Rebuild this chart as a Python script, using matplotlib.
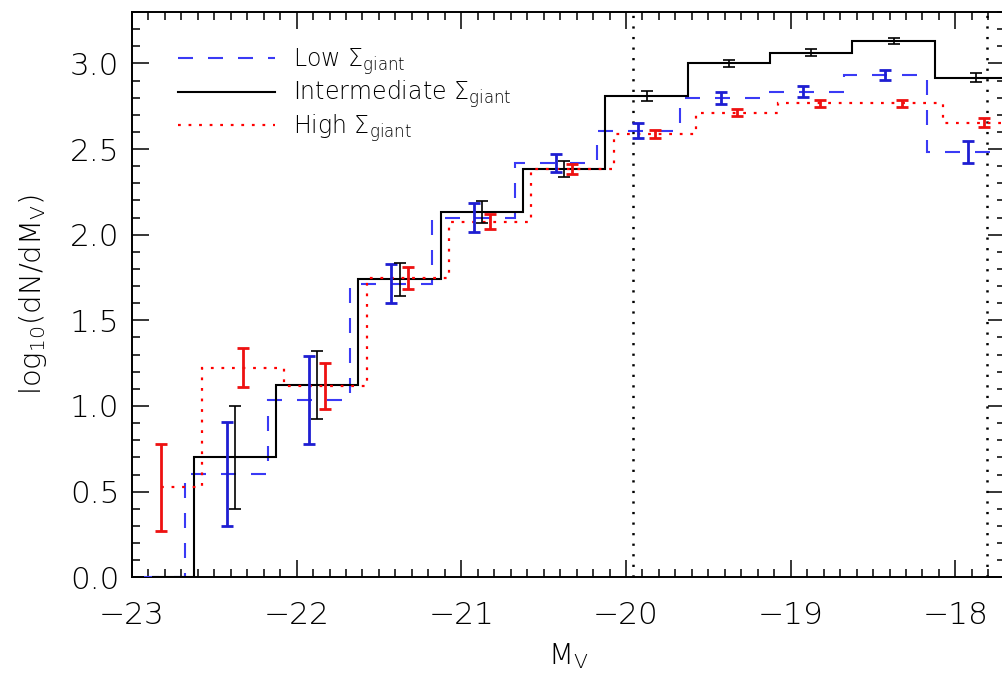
import numpy as np
import matplotlib
matplotlib.use("Agg")
import matplotlib.pyplot as plt
from matplotlib.ticker import MultipleLocator

plt.rcParams["font.family"] = ["DejaVu Sans"]
plt.rcParams["font.weight"] = 200
plt.rcParams["axes.labelweight"] = 200
plt.rcParams["mathtext.default"] = "regular"
plt.rcParams["lines.scale_dashes"] = False

# Luminosity function in three environment bins (bin width 0.5 mag)
low_mv = [-22.925, -22.425, -21.925, -21.425, -20.925, -20.425,
          -19.925, -19.425, -18.925, -18.425, -17.925]
low_logn = [0.0, 0.603, 1.035, 1.714, 2.098, 2.420,
            2.607, 2.800, 2.835, 2.932, 2.483]
low_err = [np.nan, 0.306, 0.255, 0.115, 0.085, 0.053,
           0.045, 0.035, 0.033, 0.028, 0.066]

mid_mv = [-22.875, -22.375, -21.875, -21.375, -20.875, -20.375,
          -19.875, -19.375, -18.875, -18.375, -17.875]
mid_logn = [0.0, 0.700, 1.122, 1.740, 2.135, 2.382,
            2.810, 3.000, 3.063, 3.131, 2.917]
mid_err = [np.nan, 0.300, 0.200, 0.097, 0.064, 0.048,
           0.030, 0.021, 0.020, 0.020, 0.027]

high_mv = [-22.825, -22.325, -21.825, -21.325, -20.825, -20.325,
           -19.825, -19.325, -18.825, -18.325, -17.825]
high_logn = [0.525, 1.224, 1.117, 1.745, 2.076, 2.382,
             2.586, 2.713, 2.767, 2.768, 2.653]
high_err = [0.256, 0.116, 0.133, 0.064, 0.044, 0.030,
            0.024, 0.022, 0.021, 0.021, 0.026]

# Completeness limits
mv_limits = [-19.955, -17.806]

labels = [r"Low $\mathregular{\Sigma_{giant}}$",
          r"Intermediate $\mathregular{\Sigma_{giant}}$",
          r"High $\mathregular{\Sigma_{giant}}$"]

W, H = 1003, 673
fig = plt.figure(figsize=(W / 100, H / 100), dpi=100)
x0, x1, y0, y1 = 131.9, 1004.8, 12.0, 577.3
ax = fig.add_axes([x0 / W, (H - y1) / H, (x1 - x0) / W, (y1 - y0) / H])


def hist_edges(centers):
    c = np.asarray(centers)
    # histogram drawn from the first bin centre, continuing past the last bin
    return np.r_[c[0], 0.5 * (c[:-1] + c[1:]), c[-1] + 0.5]


def errbars(ax, x, y, e, color, lw):
    x, y, e = map(np.asarray, (x, y, e))
    m = ~np.isnan(e)
    ax.errorbar(x[m], y[m], yerr=e[m], fmt="none", ecolor=color,
                elinewidth=lw, capsize=4, capthick=lw, zorder=4)


s_low = ax.stairs(low_logn, hist_edges(low_mv), baseline=None,
                  color="#3a3af5", lw=1.5, ls=(0, (10.8, 10.8)), zorder=3)
s_mid = ax.stairs(mid_logn, hist_edges(mid_mv), baseline=None,
                  color="black", lw=1.5, zorder=3)
s_high = ax.stairs(high_logn, hist_edges(high_mv), baseline=None,
                   color="#ff0000", lw=1.6, ls=(0, (2.0, 5.6)), zorder=3)

errbars(ax, low_mv, low_logn, low_err, "#1e1ed2", 2.0)
errbars(ax, mid_mv, mid_logn, mid_err, "black", 1.2)
errbars(ax, high_mv, high_logn, high_err, "#ee1111", 2.0)

for xv in mv_limits:
    ax.axvline(xv, color="black", lw=1.8, ls=(0, (1.6, 6.0)), zorder=2)

ax.set_xlim(-23.0, -17.7)
ax.set_ylim(0.0, 3.3)
ax.xaxis.set_major_locator(MultipleLocator(1.0))
ax.xaxis.set_minor_locator(MultipleLocator(0.1))
ax.yaxis.set_major_locator(MultipleLocator(0.5))
ax.yaxis.set_minor_locator(MultipleLocator(0.1))
ax.xaxis.set_major_formatter(plt.FuncFormatter(lambda v, p: f"\u2212{abs(v):.0f}"))
ax.yaxis.set_major_formatter(plt.FuncFormatter(lambda v, p: f"{v:.1f}"))

ax.tick_params(which="both", direction="in", top=True, right=True,
               labelsize=22.5, width=1.1)
ax.tick_params(which="major", length=12.2)
ax.tick_params(which="minor", length=5.8)
ax.tick_params(axis="x", which="major", pad=17)
ax.tick_params(axis="y", which="major", pad=9)
for sp in ax.spines.values():
    sp.set_linewidth(1.4)

ax.set_xlabel(r"$\mathregular{M_V}$", fontsize=21, fontweight=200)
ax.set_ylabel(r"$\mathregular{log_{10}(dN/dM_V)}$", fontsize=21, fontweight=200)
ax.xaxis.set_label_coords(0.5, (y1 - 641) / (y1 - y0))
ax.xaxis.label.set_va("top")
ax.yaxis.set_label_coords((49 - x0) / (x1 - x0), 0.5)

leg = ax.legend([s_low, s_mid, s_high], labels, loc="upper left",
                bbox_to_anchor=((178 - x0) / (x1 - x0), 1 - (46 - y0) / (y1 - y0)),
                frameon=False, prop={"size": 17, "weight": 200},
                handlelength=4.11, handletextpad=0.78, labelspacing=0.08,
                borderpad=0, borderaxespad=0)

fig.savefig("out.png", dpi=100)
